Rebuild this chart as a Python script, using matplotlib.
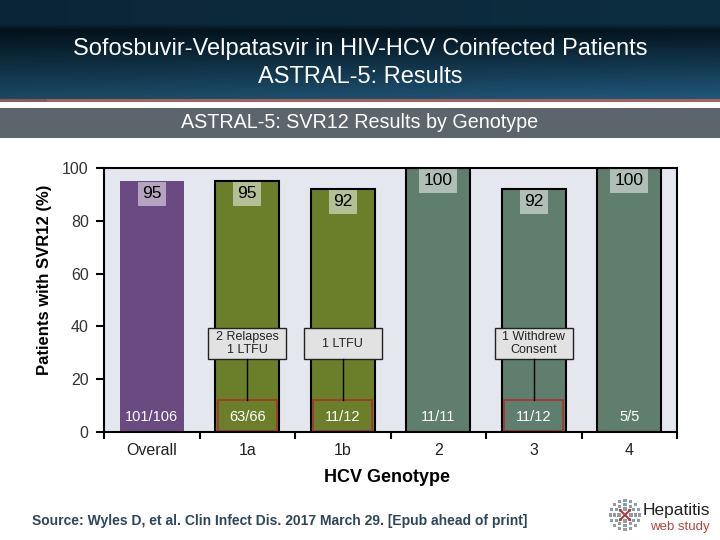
import numpy as np
import matplotlib
matplotlib.use("Agg")
import matplotlib.pyplot as plt
from matplotlib.patches import Rectangle

plt.rcParams['font.family'] = ['Liberation Sans', 'DejaVu Sans']

# ---- data ----
categories = ["Overall", "1a", "1b", "2", "3", "4"]
svr_values = [95, 95, 92, 100, 92, 100]
fractions = ["101/106", "63/66", "11/12", "11/11", "11/12", "5/5"]
failure_notes = [None, "2 Relapses\n1 LTFU", "1 LTFU", None, "1 Withdrew\nConsent", None]
y_ticks = [0, 20, 40, 60, 80, 100]

bar_colors = ["#6A4A80", "#6B7F2B", "#6B7F2B", "#607E6E", "#607E6E", "#607E6E"]
bar_edges = ["none", "black", "black", "black", "black", "black"]

fig = plt.figure(figsize=(7.2, 5.4), dpi=100)
fig.patch.set_facecolor("white")

# ---- header band ----
hdr = fig.add_axes([0, 1 - 99 / 540, 1, 99 / 540])
hdr.set_axis_off()
rows = 99
grad = np.zeros((rows, 360, 3))
top = np.array([0x0C, 0x2A, 0x3C]) / 255
dark = np.array([0x04, 0x14, 0x1E]) / 255
bot = np.array([0x1E, 0x52, 0x72]) / 255
for r in range(rows):
    if r < 23:
        c = top
    elif r < 30:
        t = (r - 23) / 7
        c = top * (1 - t) + dark * t
    else:
        t = (r - 30) / (rows - 30)
        c = dark * (1 - t) + bot * t
    grad[r, :, :] = c
shade = np.linspace(0.9, 1.08, 360)[None, :, None]
grad = np.clip(grad * shade, 0, 1)
hdr.imshow(grad, aspect="auto", extent=[0, 1, 0, 1])
hdr.set_xlim(0, 1)
hdr.set_ylim(0, 1)

fig.patches.append(Rectangle((0.065, 1 - 102 / 540), 0.935, 3 / 540,
                             transform=fig.transFigure, facecolor="#A8625C",
                             edgecolor="none"))
fig.patches.append(Rectangle((0, 1 - 102 / 540), 0.065, 3 / 540,
                             transform=fig.transFigure, facecolor="#8F5A55",
                             edgecolor="none"))
fig.patches.append(Rectangle((0, 1 - 138 / 540), 1, 30 / 540,
                             transform=fig.transFigure, facecolor="#5D656C",
                             edgecolor="none"))

fig.text(0.5, 1 - 49 / 540, "Sofosbuvir-Velpatasvir in HIV-HCV Coinfected Patients",
         ha="center", va="center", color="white", fontsize=17)
fig.text(0.5, 1 - 77 / 540, "ASTRAL-5: Results",
         ha="center", va="center", color="white", fontsize=17)
fig.text(0.5, 1 - 123 / 540, "ASTRAL-5: SVR12 Results by Genotype",
         ha="center", va="center", color="white", fontsize=14.2)

# ---- main chart ----
ax = fig.add_axes([104 / 720, 1 - 432 / 540, 573 / 720, 264 / 540])
ax.set_facecolor("#E4E8EE")
x = np.arange(len(categories))
ax.bar(x, svr_values, width=0.67, color=bar_colors, edgecolor=bar_edges,
       linewidth=1.5, zorder=2)
ax.set_xlim(-0.5, len(categories) - 0.5)
ax.set_ylim(0, 100)
ax.set_yticks(y_ticks)
ax.set_yticklabels([str(v) for v in y_ticks], fontsize=11.5, color="#333333")
ax.set_xticks(x)
ax.set_xticklabels(categories, fontsize=11.5, color="#222222")
ax.tick_params(axis="x", which="major", length=0, pad=8)
ax.set_xticks(np.arange(-0.5, len(categories)), minor=True)
ax.tick_params(axis="x", which="minor", length=5, width=1.5, direction="out")
ax.tick_params(axis="y", length=6, width=1.5, direction="out", pad=5)
for s in ax.spines.values():
    s.set_linewidth(1.5)
    s.set_color("black")
    s.set_zorder(5)

for xi, v, frac, note in zip(x, svr_values, fractions, failure_notes):
    ax.text(xi, v - 4.8, str(v), ha="center", va="center", fontsize=12.5,
            color="black", zorder=4,
            bbox=dict(boxstyle="square,pad=0.25", facecolor="white",
                      edgecolor="none", alpha=0.5))
    ax.text(xi, 5.8, frac, ha="center", va="center", fontsize=10.5,
            color="white", zorder=4)
    if note is not None:
        ax.add_patch(Rectangle((xi - 0.31, 0.4), 0.62, 11.6, facecolor="none",
                               edgecolor="#A8322A", linewidth=1.2, zorder=3))
        ax.add_patch(Rectangle((xi - 0.41, 27.7), 0.82, 11.7,
                               facecolor="#E2E2E2", edgecolor="#222222",
                               linewidth=1, zorder=3))
        ax.text(xi, 33.5, note, ha="center", va="center", fontsize=9,
                color="#222222", zorder=4, linespacing=1.2)
        ax.plot([xi, xi], [12, 27.7], color="black", linewidth=1, zorder=3)

fig.text(45 / 720, 1 - 280 / 540, "Patients with SVR12 (%)", rotation=90,
         ha="center", va="center", fontsize=12, fontweight="bold")
fig.text(387 / 720, 1 - 478 / 540, "HCV Genotype", ha="center", va="center",
         fontsize=13, fontweight="bold")
fig.text(32 / 720, 1 - 521 / 540,
         "Source: Wyles D, et al. Clin Infect Dis. 2017 March 29. [Epub ahead of print]",
         ha="left", va="center", fontsize=10, fontweight="bold", color="#2D4659")

# ---- logo ----
lg = fig.add_axes([608 / 720, 1 - 532 / 540, 34 / 720, 34 / 540])
lg.set_axis_off()
lg.set_xlim(-1, 1)
lg.set_ylim(-1, 1)
for rad, n in [(0.85, 16), (0.6, 12), (0.35, 8)]:
    ang = np.linspace(0, 2 * np.pi, n, endpoint=False)
    lg.scatter(rad * np.cos(ang), rad * np.sin(ang), s=5, marker="s",
               color=["#7FA3A8" if i % 2 else "#9A9A9A" for i in range(n)],
               linewidths=0)
lg.plot([-0.3, 0.3], [-0.3, 0.3], color="#B03A3A", lw=1.5)
lg.plot([-0.3, 0.3], [0.3, -0.3], color="#B03A3A", lw=1.5)
fig.text(643 / 720, 1 - 510 / 540, "Hepatitis", ha="left", va="center",
         fontsize=12.5, color="#222222")
fig.text(650 / 720, 1 - 527 / 540, "web study", ha="left", va="center",
         fontsize=9.5, color="#B5473A")

fig.savefig("out.png", dpi=100)
